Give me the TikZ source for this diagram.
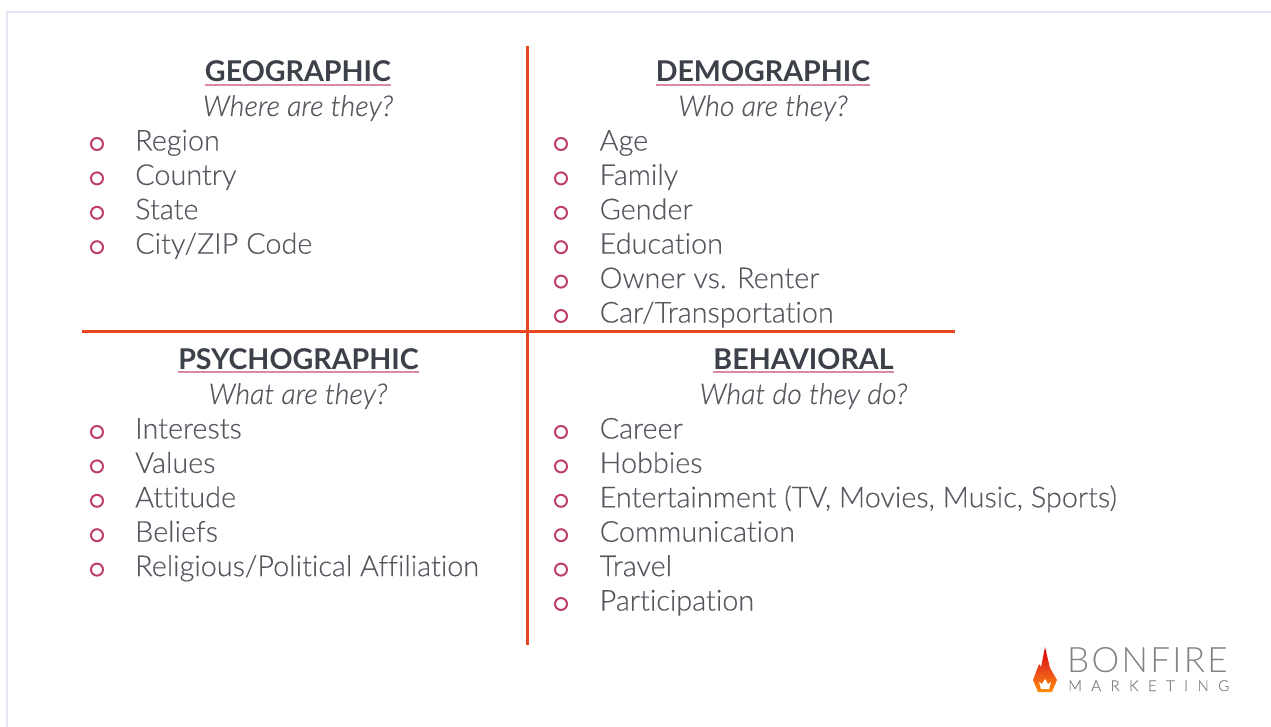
\documentclass[tikz,border=0pt]{standalone}
\usepackage{fontspec}
\setmainfont{Lato}
\newfontfamily\thinfont[Ligatures=NoCommon, RawFeature={embolden=0.35}]{Lato Light}
\newfontfamily\logofont[LetterSpace=6.5]{Lato Light}
\definecolor{ruleorange}{HTML}{E8461E}
\definecolor{bulletpink}{HTML}{BE3F6C}
\definecolor{headpink}{HTML}{D98BA6}
\definecolor{textgray}{HTML}{55585F}
\definecolor{headgray}{HTML}{3C4048}
\definecolor{framegray}{HTML}{E3E6F0}
\definecolor{logogray}{HTML}{7E8287}
\tikzset{
    x=1pt, y=-1pt,
    heading/.style={inner sep=0pt, anchor=base, text=headgray, font=\fontsize{28.6}{30}\selectfont\bfseries},
    question/.style={inner sep=0pt, anchor=base, text=textgray, font=\thinfont\fontsize{28.6}{30}\selectfont\itshape},
    entry/.style={inner sep=0pt, anchor=base west, text=textgray, font=\thinfont\fontsize{28.8}{30}\selectfont},
    bullet/.style={circle, draw=bulletpink, line width=2pt, inner sep=0pt, minimum size=12pt},
    headline/.style={headpink, line width=1.2pt},
    axisline/.style={ruleorange, line width=3pt},
}
\begin{document}
\begin{tikzpicture}

    \useasboundingbox (0,0) rectangle (1271,727);

    % Frame
    \draw[framegray, line width=1.5pt] (7,727) -- (7,12) -- (1271,12);

    % Axes
    \coordinate (top) at (527,46);
    \coordinate (bottom) at (527,645);
    \coordinate (left) at (82,331);
    \coordinate (right) at (955,331);
    \draw[axisline] (top) -- (bottom);
    \draw[axisline] (left) -- (right);

    % Headings
    \node[heading] (geo) at (298,82) {GEOGRAPHIC};
    \node[heading] (demo) at (763,82) {DEMOGRAPHIC};
    \node[heading] (psycho) at (298.5,369) {PSYCHOGRAPHIC};
    \node[heading] (behav) at (803.5,369) {BEHAVIORAL};
    \foreach \h in {geo, demo, psycho, behav}
        \draw[headline] ([yshift=-3pt]\h.base west) -- ([yshift=-3pt]\h.base east);

    \node[question] (geoq) at (298,116) {Where are they?};
    \node[question] (demoq) at (763,116) {Who are they?};
    \node[question] (psychoq) at (298,404) {What are they?};
    \node[question] (behavq) at (803.5,404) {What do they do?};

    % Lists
    \foreach \t [count=\i from 0] in {Region, Country, State, City/ZIP Code} {
        \node[entry] (geo\i) at (135,150.5+34.4*\i) {\t};
        \node[bullet] (geob\i) at (97,144+34.4*\i) {};
    }
    \foreach \t [count=\i from 0] in {Age, Family, Gender, Education, Owner vs. Renter, Car/Transportation} {
        \node[entry] (demo\i) at (599.5,150.5+34.4*\i) {\t};
        \node[bullet] (demob\i) at (561,144+34.4*\i) {};
    }
    \foreach \t [count=\i from 0] in {Interests, Values, Attitude, Beliefs, Religious/Political Affiliation} {
        \node[entry] (psycho\i) at (135,438.5+34.4*\i) {\t};
        \node[bullet] (psychob\i) at (97,432+34.4*\i) {};
    }
    \foreach \t [count=\i from 0] in {Career, Hobbies, {Entertainment (TV, Movies, Music, Sports)}, Communication, Travel, Participation} {
        \node[entry] (behav\i) at (599.5,438.5+34.4*\i) {\t};
        \node[bullet] (behavb\i) at (561,432+34.4*\i) {};
    }

    % Logo
    \shade[top color=red!85!black, bottom color=orange!90!yellow, middle color=ruleorange]
        (1045,647) -- (1050,668) -- (1057,680) -- (1052,692) -- (1038,692) -- (1033,680) -- (1039,664) -- (1041,667) -- cycle;
    \fill[white] (1045,679) -- (1048,684) -- (1051,682) -- (1049,689) -- (1041,689) -- (1039,682) -- (1042,684) -- cycle;
    \node[inner sep=0pt, anchor=base west, text=logogray, font=\logofont\fontsize{35}{35}\selectfont] (bonfire) at (1067,672) {BONFIRE};
    \node[inner sep=0pt, anchor=base west, text=logogray, font=\thinfont\fontsize{15}{15}\selectfont, text width=161pt] (marketing) at (1068,691) {M\hfill A\hfill R\hfill K\hfill E\hfill T\hfill I\hfill N\hfill G};

\end{tikzpicture}
\end{document}
